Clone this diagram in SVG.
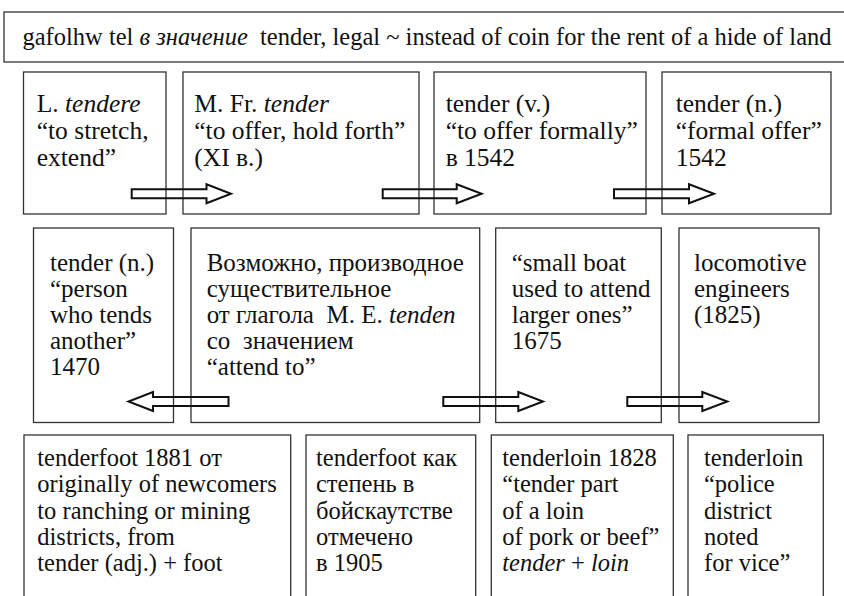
<svg xmlns="http://www.w3.org/2000/svg" width="844" height="596" viewBox="0 0 844 596">
<style>
.box{fill:none;stroke:#333;stroke-width:1.3}
text{font-family:'Liberation Serif','DejaVu Serif',serif;fill:#111}
.r1{font-size:25.5px}
.r2{font-size:25px}
.r3{font-size:24.5px}
.i{font-style:italic}
.arr{fill:none;stroke:#111;stroke-width:2;stroke-linejoin:miter}
</style>
<rect width="844" height="596" fill="#fff"/>
<g font-family="Liberation Serif, DejaVu Serif, serif">
<g id="banner">
<rect class="box" x="4" y="12" width="845" height="50"/>
<text x="22.5" y="45" font-size="24.5" xml:space="preserve" textLength="809">gafolhw tel <tspan class="i">в значение</tspan>  tender, legal ~ instead of coin for the rent of a hide of land</text>
</g>
<g id="n1">
<rect class="box" x="23.5" y="72" width="142.5" height="142"/>
<text class="r1" x="36.7" y="111.5">L. <tspan class="i">tendere</tspan></text>
<text class="r1" x="36.7" y="138.5">“to stretch,</text>
<text class="r1" x="36.7" y="165.5">extend”</text>
</g>
<g id="n2">
<rect class="box" x="183" y="72" width="236" height="142"/>
<text class="r1" x="194.3" y="111.5">M. Fr. <tspan class="i">tender</tspan></text>
<text class="r1" x="194.3" y="138.5">“to offer, hold forth”</text>
<text class="r1" x="194.3" y="165.5">(XI в.)</text>
</g>
<g id="n3">
<rect class="box" x="434" y="72" width="212" height="142"/>
<text class="r1" x="445.7" y="111.5">tender (v.)</text>
<text class="r1" x="445.7" y="138.5">“to offer formally”</text>
<text class="r1" x="445.7" y="165.5">в 1542</text>
</g>
<g id="n4">
<rect class="box" x="662" y="72" width="169" height="142"/>
<text class="r1" x="675.7" y="111.5">tender (n.)</text>
<text class="r1" x="675.7" y="138.5">“formal offer”</text>
<text class="r1" x="675.7" y="165.5">1542</text>
</g>
<g id="n5">
<rect class="box" x="33.5" y="228" width="140" height="194.5"/>
<text class="r2" x="50" y="270.5">tender (n.)</text>
<text class="r2" x="50" y="296.5">“person</text>
<text class="r2" x="50" y="322.5">who tends</text>
<text class="r2" x="50" y="348.5">another”</text>
<text class="r2" x="50" y="374.5">1470</text>
</g>
<g id="n6">
<rect class="box" x="191" y="228" width="288.7" height="194.5"/>
<text class="r2" x="206.7" y="270.5">Возможно, производное</text>
<text class="r2" x="206.7" y="296.5">существительное</text>
<text class="r2" x="206.7" y="322.5" xml:space="preserve">от глагола  М. Е. <tspan class="i">tenden</tspan></text>
<text class="r2" x="206.7" y="348.5" xml:space="preserve">со  значением</text>
<text class="r2" x="206.7" y="374.5">“attend to”</text>
</g>
<g id="n7">
<rect class="box" x="495.7" y="228" width="165.6" height="194.5"/>
<text class="r2" x="511.7" y="270.5">“small boat</text>
<text class="r2" x="511.7" y="296.5">used to attend</text>
<text class="r2" x="511.7" y="322.5">larger ones”</text>
<text class="r2" x="511.7" y="348.5">1675</text>
</g>
<g id="n8">
<rect class="box" x="679" y="228" width="140" height="194.5"/>
<text class="r2" x="694" y="270.5">locomotive</text>
<text class="r2" x="694" y="296.5">engineers</text>
<text class="r2" x="694" y="322.5">(1825)</text>
</g>
<g id="n9">
<rect class="box" x="24" y="435" width="266.7" height="175"/>
<text class="r3" x="37.3" y="466">tenderfoot 1881 от</text>
<text class="r3" x="37.3" y="492.3">originally of newcomers</text>
<text class="r3" x="37.3" y="518.6">to ranching or mining</text>
<text class="r3" x="37.3" y="545">districts, from</text>
<text class="r3" x="37.3" y="571.3">tender (adj.) + foot</text>
</g>
<g id="n10">
<rect class="box" x="306" y="435" width="169.7" height="175"/>
<text class="r3" x="316" y="466">tenderfoot как</text>
<text class="r3" x="316" y="492.3">степень в</text>
<text class="r3" x="316" y="518.6">бойскаутстве</text>
<text class="r3" x="316" y="545">отмечено</text>
<text class="r3" x="316" y="571.3">в 1905</text>
</g>
<g id="n11">
<rect class="box" x="491.3" y="435" width="182" height="175"/>
<text class="r3" x="502.3" y="466">tenderloin 1828</text>
<text class="r3" x="502.3" y="492.3">“tender part</text>
<text class="r3" x="502.3" y="518.6">of a loin</text>
<text class="r3" x="502.3" y="545">of pork or beef”</text>
<text class="r3" x="502.3" y="571.3" xml:space="preserve"><tspan class="i">tender</tspan> + <tspan class="i">loin</tspan></text>
</g>
<g id="n12">
<rect class="box" x="688" y="435" width="135.3" height="175"/>
<text class="r3" x="704" y="466">tenderloin</text>
<text class="r3" x="704" y="492.3">“police</text>
<text class="r3" x="704" y="518.6">district</text>
<text class="r3" x="704" y="545">noted</text>
<text class="r3" x="704" y="571.3">for vice”</text>
</g>
</g>
<g id="connectors">
<polygon class="arr" points="131.7,189.3 206.5,189.3 206.5,184.3 231,193.8 206.5,203.3 206.5,198.3 131.7,198.3"/>
<polygon class="arr" points="382.7,189.3 456.7,189.3 456.7,184.3 481.7,193.8 456.7,203.3 456.7,198.3 382.7,198.3"/>
<polygon class="arr" points="614,189.3 689,189.3 689,184.3 714,193.8 689,203.3 689,198.3 614,198.3"/>
<polygon class="arr" points="228.5,397 153,397 153,392 128.5,401.5 153,411 153,406 228.5,406"/>
<polygon class="arr" points="443.3,397 518.3,397 518.3,392 543,401.5 518.3,411 518.3,406 443.3,406"/>
<polygon class="arr" points="627.3,397 702.3,397 702.3,392 727.3,401.5 702.3,411 702.3,406 627.3,406"/>
</g>
</svg>
